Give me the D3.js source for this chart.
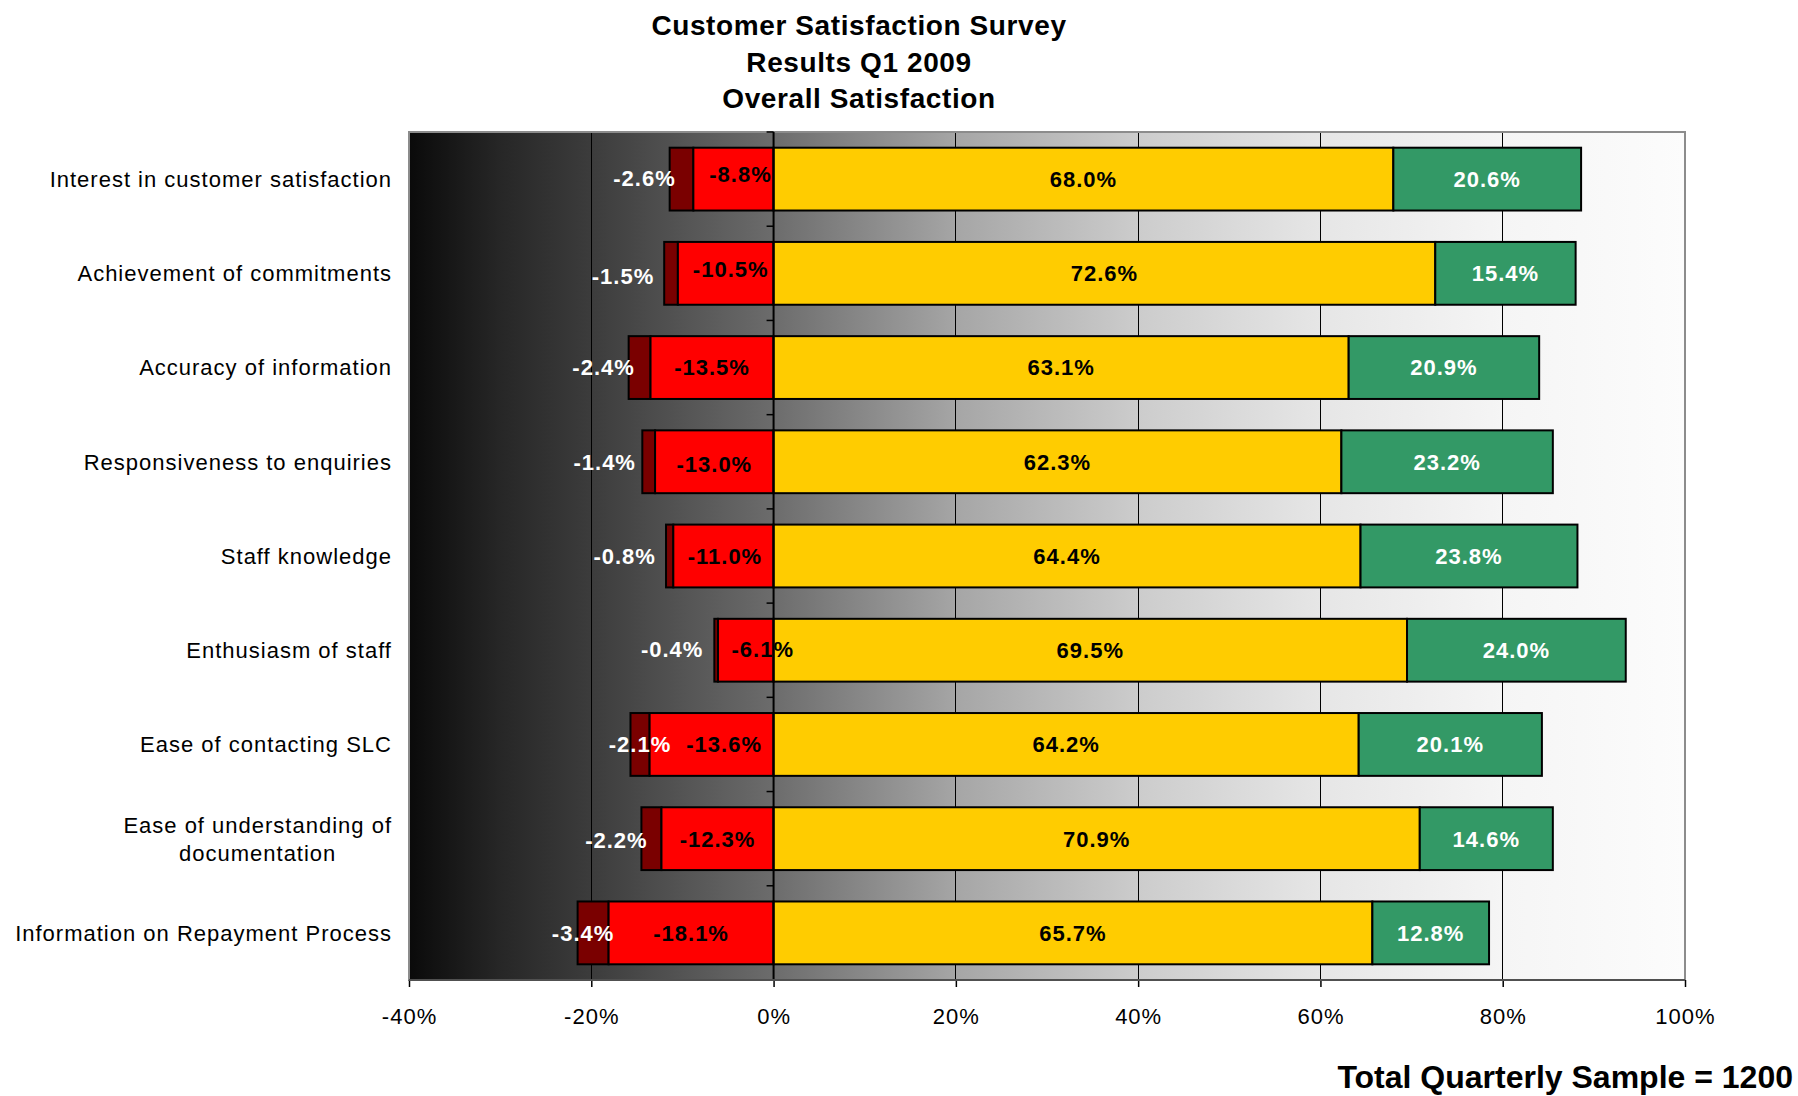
<!DOCTYPE html>
<html>
<head>
<meta charset="utf-8">
<script src="https://cdn.jsdelivr.net/npm/d3@7"></script>
<style>
  body { margin: 0; background: #ffffff; }
  svg { display: block; font-family: Arial, "Liberation Sans", sans-serif; }
</style>
</head>
<body>
<svg id="chart" width="1798" height="1096"></svg>
<script>
// Survey items, top to bottom ("\n" marks a manual line break)
const categories = [
  "Interest in customer satisfaction",
  "Achievement of commitments",
  "Accuracy of information",
  "Responsiveness to enquiries",
  "Staff knowledge",
  "Enthusiasm of staff",
  "Ease of contacting SLC",
  "Ease of understanding of\ndocumentation",
  "Information on Repayment Process"
];

// Share of respondents (%) per rating group
const veryDissatisfied = [2.6, 1.5, 2.4, 1.4, 0.8, 0.4, 2.1, 2.2, 3.4];
const dissatisfied     = [8.8, 10.5, 13.5, 13.0, 11.0, 6.1, 13.6, 12.3, 18.1];
const satisfied        = [68.0, 72.6, 63.1, 62.3, 64.4, 69.5, 64.2, 70.9, 65.7];
const verySatisfied    = [20.6, 15.4, 20.9, 23.2, 23.8, 24.0, 20.1, 14.6, 12.8];

// Value axis ticks (%)
const xTicks = [-40, -20, 0, 20, 40, 60, 80, 100];

const titleLines = ["Customer Satisfaction Survey", "Results Q1 2009", "Overall Satisfaction"];
const footnote = "Total Quarterly Sample = 1200";

// Hand-placed offsets (px) for the negative-side data labels
const darkLabelDx = [-37, -48, -36, -44, -45, -44, 0, -35, -10];
const darkLabelDy = [-1, 3, 0, 0, 0, -1, 0, 1, 0];
const redLabelDx  = [7, 5, 0, 0, 1.5, 17, 12.5, 0, 0];
const redLabelDy  = [-5, -4, 0, 2, 0, -1, 0, 0, 0];

const svg = d3.select("#chart");
const plot = { left: 409, right: 1685, top: 132, bottom: 980 };

const x = d3.scaleLinear().domain([-40, 100]).range([plot.left, plot.right]);
const y = d3.scaleBand().domain(categories)
  .range([plot.top, plot.bottom])
  .paddingInner(1 / 3).paddingOuter(1 / 6);

// Plain hyphen for negative numbers
const locale = d3.formatLocale({ decimal: ".", thousands: ",", grouping: [3], currency: ["", ""], minus: "-" });
const fmt = locale.format(".1f");

// Plot background: horizontal dark-to-light gradient
const defs = svg.append("defs");
const grad = defs.append("linearGradient").attr("id", "bgGrad")
  .attr("x1", "0").attr("x2", "1").attr("y1", "0").attr("y2", "0");
[
  [0.00, "#0a0a0a"], [0.07, "#262626"], [0.143, "#3c3c3c"], [0.286, "#6c6c6c"],
  [0.43, "#a6a6a6"], [0.571, "#cccccc"], [0.714, "#e6e6e6"], [0.857, "#f5f5f5"], [1.00, "#fcfcfc"]
].forEach(([o, c]) => grad.append("stop").attr("offset", o).attr("stop-color", c));

svg.append("rect")
  .attr("x", plot.left).attr("y", plot.top)
  .attr("width", plot.right - plot.left).attr("height", plot.bottom - plot.top)
  .attr("fill", "url(#bgGrad)");

// Vertical gridlines
svg.append("g").selectAll("line")
  .data(xTicks.filter(t => t !== 0 && t !== -40 && t !== 100))
  .join("line")
  .attr("x1", d => x(d)).attr("x2", d => x(d))
  .attr("y1", plot.top).attr("y2", plot.bottom)
  .attr("stroke", "#000").attr("stroke-width", 1).attr("shape-rendering", "crispEdges");

// Plot frame
svg.append("rect")
  .attr("x", plot.left).attr("y", plot.top)
  .attr("width", plot.right - plot.left).attr("height", plot.bottom - plot.top)
  .attr("fill", "none").attr("stroke", "#8c8c8c").attr("stroke-width", 2);

// Stacked segments: negatives extend left of zero, positives right
const rows = categories.map((c, i) => ({
  cat: c, i,
  segs: [
    { key: "vd", x0: -(veryDissatisfied[i] + dissatisfied[i]), x1: -dissatisfied[i], v: -veryDissatisfied[i], fill: "#7a0000", text: "#ffffff" },
    { key: "d",  x0: -dissatisfied[i], x1: 0, v: -dissatisfied[i], fill: "#ff0000", text: "#000000" },
    { key: "s",  x0: 0, x1: satisfied[i], v: satisfied[i], fill: "#ffcc00", text: "#000000" },
    { key: "vs", x0: satisfied[i], x1: satisfied[i] + verySatisfied[i], v: verySatisfied[i], fill: "#339966", text: "#ffffff" }
  ]
}));

const barG = svg.append("g");
rows.forEach(r => {
  barG.selectAll(null).data(r.segs).join("rect")
    .attr("x", d => x(d.x0))
    .attr("y", y(r.cat))
    .attr("width", d => x(d.x1) - x(d.x0))
    .attr("height", y.bandwidth())
    .attr("fill", d => d.fill)
    .attr("stroke", "#000").attr("stroke-width", 2);
});

// Category axis at zero with outward ticks at band edges
const edges = categories.map(c => y(c) - (y.step() - y.bandwidth()) / 2);
edges.push(plot.bottom);
svg.append("g").selectAll("line").data(edges).join("line")
  .attr("x1", x(0) - 7).attr("x2", x(0))
  .attr("y1", d => d).attr("y2", d => d)
  .attr("stroke", "#000").attr("stroke-width", 1.5);
svg.append("line")
  .attr("x1", x(0)).attr("x2", x(0))
  .attr("y1", plot.top).attr("y2", plot.bottom)
  .attr("stroke", "#000").attr("stroke-width", 2);

// Value labels
const labelG = svg.append("g")
  .attr("font-size", 22).attr("font-weight", "bold")
  .attr("letter-spacing", 1).attr("text-anchor", "middle");
rows.forEach(r => {
  labelG.selectAll(null).data(r.segs).join("text")
    .attr("x", d => {
      const cx = (x(d.x0) + x(d.x1)) / 2;
      if (d.key === "vd") return cx + darkLabelDx[r.i];
      if (d.key === "d") return cx + redLabelDx[r.i];
      return cx;
    })
    .attr("y", d => {
      const cy = y(r.cat) + y.bandwidth() / 2;
      if (d.key === "vd") return cy + darkLabelDy[r.i];
      if (d.key === "d") return cy + redLabelDy[r.i];
      return cy;
    })
    .attr("dy", "0.36em")
    .attr("fill", d => d.text)
    .text(d => fmt(d.v) + "%");
});

// Bottom value axis
const xAxis = d3.axisBottom(x).tickValues(xTicks).tickFormat(d => locale.format("d")(d) + "%").tickSize(7);
const axG = svg.append("g").attr("transform", `translate(0,${plot.bottom})`).call(xAxis);
axG.select(".domain").remove();
axG.selectAll(".tick line").attr("stroke", "#000").attr("stroke-width", 1.5);
axG.selectAll(".tick text")
  .attr("y", 43.5).attr("dy", 0)
  .attr("font-size", 22).attr("letter-spacing", 1)
  .attr("font-family", "Arial, 'Liberation Sans', sans-serif")
  .attr("fill", "#000");
svg.append("line")
  .attr("x1", plot.left).attr("x2", plot.right)
  .attr("y1", plot.bottom).attr("y2", plot.bottom)
  .attr("stroke", "#505050").attr("stroke-width", 2);

// Category labels, right-aligned; multi-line labels centred as a block
const catG = svg.append("g").attr("font-size", 22).attr("letter-spacing", 1).attr("fill", "#000");
categories.forEach(c => {
  const lines = c.split("\n");
  const cy = y(c) + y.bandwidth() / 2;
  const lh = 28;
  const t = catG.append("text").attr("text-anchor", "end");
  lines.forEach((ln, k) => {
    t.append("tspan").attr("x", 392)
      .attr("y", cy + (k - (lines.length - 1) / 2) * lh)
      .attr("dy", "0.36em").text(ln);
  });
  if (lines.length > 1) {
    const spans = t.selectAll("tspan").nodes();
    const widths = spans.map(s => s.getComputedTextLength());
    const maxW = d3.max(widths);
    t.attr("text-anchor", "middle");
    spans.forEach(s => s.setAttribute("x", 392 - maxW / 2));
  }
});

// Title
svg.append("g").attr("font-size", 28).attr("font-weight", "bold")
  .attr("letter-spacing", 0.6).attr("text-anchor", "middle")
  .selectAll("text").data(titleLines).join("text")
  .attr("x", 859).attr("y", (d, i) => 35 + i * 36.7)
  .text(d => d);

// Sample size note
svg.append("text")
  .attr("x", 1793).attr("y", 1088)
  .attr("text-anchor", "end")
  .attr("font-size", 32).attr("font-weight", "bold")
  .text(footnote);
</script>
</body>
</html>
